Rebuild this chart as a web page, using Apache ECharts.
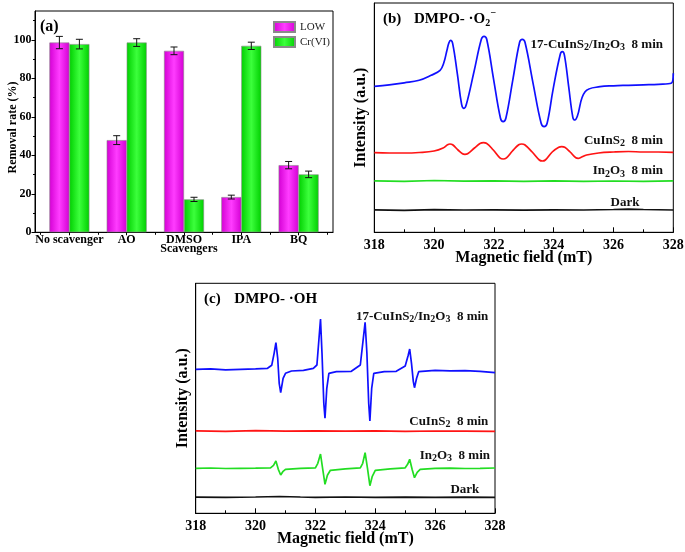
<!DOCTYPE html>
<html><head><meta charset="utf-8">
<script src="https://cdn.jsdelivr.net/npm/echarts@6/dist/echarts.min.js"></script>
<style>html,body{margin:0;padding:0;background:#fff}#c{width:685px;height:552px}</style>
</head><body><div id="c"></div>
<script>
// ---------- Panel (a) data ----------
const scavengers = ['No scavenger', 'AO', 'DMSO', 'IPA', 'BQ'];
const lowRate = [98.6, 47.9, 94.3, 18.3, 34.9];
const lowErr  = [3.2, 2.3, 2.0, 1.0, 1.9];
const crRate  = [97.8, 98.6, 17.1, 96.9, 30.1];
const crErr   = [2.5, 2.0, 1.1, 1.9, 1.7];
const rateTicks = [0, 20, 40, 60, 80, 100];
const rateMinorTicks = [10, 30, 50, 70, 90, 110];
const fieldTicks = [318, 320, 322, 324, 326, 328];

// ---------- Panel (b) spectra: [field (mT), intensity (a.u.)] ----------
const bBlue = [[318.0,146],[318.5,147.5],[319.0,149.5],[319.5,152],[319.9,157],[320.2,162],[320.32,169],[320.43,182],
  [320.49,189],[320.55,192],[320.62,189],[320.78,158],[320.92,128],[321.0,124],[321.08,128],[321.33,160],[321.58,193],
  [321.67,196],[321.76,193],[321.99,153],[322.22,114],[322.31,110.6],[322.4,114],[322.63,152],[322.86,190],[322.95,193],
  [323.04,190],[323.31,149],[323.58,109],[323.68,105.6],[323.78,109],[323.98,143],[324.22,178],[324.29,180.6],[324.36,177],
  [324.5,146],[324.64,115],[324.71,112.3],[324.79,116],[325.05,140.6],[325.55,145.6],[326.0,146.5],
  [326.5,147],[327.0,147.5],[327.5,148],[327.93,149],[328.0,159]];
const bRed = [[318,79.6],[318.5,79.3],[319,79.3],[319.5,79.8],[320.0,81.3],[320.3,84.3],[320.45,87.5],[320.53,88.3],[320.62,87.5],
  [320.8,82.3],[320.95,78.5],[321.03,78],[321.12,78.6],[321.35,84.3],[321.55,89],[321.65,89.6],[321.75,89],[321.98,82.3],
  [322.2,74.5],[322.31,73.3],[322.42,74.5],[322.62,81.3],[322.83,87.6],[322.93,88.3],[323.03,87.6],[323.28,80.3],
  [323.52,72.3],[323.62,71.3],[323.72,72.3],[323.95,80.3],[324.17,85],[324.27,85.6],[324.37,85],[324.55,80.3],
  [324.74,74.5],[324.82,74],[324.92,75],[325.1,77.3],[325.5,79.3],[326,80.3],[326.5,80.8],[327,80.3],[327.5,80.3],[328,80]];
const bGreen = [[318,51.5],[319,51],[320,51.8],[321,51.2],[322,51.5],[323,51],[324,51.4],[325,51],[326,51.3],[327,51],[328,51.5]];
const bBlack = [[318,22.5],[319,22],[320,22.6],[321,22.3],[322,22.5],[323,22.2],[324,22.4],[325,22.3],[326,22.8],[326.5,23.2],[327,22.8],[328,22.3]];

// ---------- Panel (c) spectra ----------
const cBlue = [[318,144],[318.5,144.5],[319,143.5],[319.5,144],[320,144.5],[320.4,145],[320.54,148],[320.62,160],[320.68,170.6],
  [320.74,155],[320.79,130],[320.84,120.6],[320.92,135],[321.0,140],[321.2,142.3],[321.6,143],[321.93,145],[322.05,148.3],
  [322.12,175],[322.17,194.3],[322.22,160],[322.28,110],[322.32,95],[322.38,125],[322.45,140],[322.7,141.6],[323.2,142],
  [323.5,148.3],[323.6,175],[323.66,191],[323.72,160],[323.78,110],[323.82,92.3],[323.88,125],[323.95,140],[324.3,141.6],
  [324.7,142],[325.0,147.3],[325.1,158],[325.15,164.3],[325.21,150],[325.27,132],[325.31,125.6],[325.38,135],[325.45,141.6],
  [326,143],[326.5,142.5],[327,142.6],[327.5,142],[328,140.6]];
const cRed = [[318,82.5],[319,82],[320,82.6],[321,82.2],[322,82.5],[323,82.1],[324,82.4],[325,82],[326,82.3],[327,82.2],[328,82]];
const cGreen = [[318,45],[318.5,45.3],[319,44.8],[319.5,45],[320,45.2],[320.5,45.5],[320.6,48],[320.68,52.3],[320.76,44],
  [320.84,38.3],[320.92,42],[321.0,44],[321.5,45],[322.0,45.5],[322.08,50],[322.17,59.3],[322.24,45],[322.32,29],[322.4,38],
  [322.5,43],[323,44.5],[323.5,45.5],[323.58,50],[323.66,60.6],[323.74,45],[323.82,27.6],[323.9,37],[324,43],[324.5,44.5],
  [325,45.5],[325.08,49],[325.15,54],[325.23,44],[325.31,35.6],[325.4,41],[325.5,44],[326,45],[326.5,45.2],[327,44.8],
  [327.5,45],[328,45.3]];
const cBlack = [[318,16.2],[319,16],[320,16.3],[320.8,16.8],[321.5,16.3],[322,16],[323,16.3],[324,16],[325,16.2],[326,16],[327,16.2],[328,16]];

// ---------- styling ----------
const FF = '"Liberation Serif","Times New Roman",serif';
const BLUE = '#1010ff', RED = '#ff1414', GREEN = '#22dd22', BLACK = '#111';
const magGrad = {type:'linear',x:0,y:0,x2:1,y2:0,colorStops:[{offset:0,color:'#d400d4'},{offset:0.5,color:'#ff3cff'},{offset:1,color:'#d400d4'}]};
const grnGrad = {type:'linear',x:0,y:0,x2:1,y2:0,colorStops:[{offset:0,color:'#00cf00'},{offset:0.5,color:'#3cff3c'},{offset:1,color:'#00cf00'}]};

const chart = echarts.init(document.getElementById('c'), null, {renderer:'canvas'});

function makeErr(off){
  return function(params, api){
    const x = api.value(0), v = api.value(1), e = api.value(2);
    const t = api.coord([x, v + e]), b = api.coord([x, v - e]);
    const cx = t[0] + off;
    const st = {stroke:'#111', lineWidth:1};
    return {type:'group', children:[
      {type:'line', shape:{x1:cx,y1:t[1],x2:cx,y2:b[1]}, style:st},
      {type:'line', shape:{x1:cx-3.5,y1:t[1],x2:cx+3.5,y2:t[1]}, style:st},
      {type:'line', shape:{x1:cx-3.5,y1:b[1],x2:cx+3.5,y2:b[1]}, style:st}
    ]};
  };
}

const axLine = {show:true, lineStyle:{color:'#000', width:1}};
const noSplit = {show:false};

function spectrumX(gi){
  return {type:'value', gridIndex:gi, min:318, max:328, interval:2,
    axisLine:axLine, axisTick:{show:true, inside:true, length:5, lineStyle:{color:'#000'}},
    minorTick:{show:true, splitNumber:2, length:3, lineStyle:{color:'#000'}},
    splitLine:noSplit, minorSplitLine:{show:false},
    axisLabel:{margin:6, fontFamily:FF, fontWeight:'bold', fontSize:14, color:'#000'},
    name:'Magnetic field (mT)', nameLocation:'middle', nameGap:18, nameMoveOverlap:false,
    nameTextStyle:{fontFamily:FF, fontWeight:'bold', fontSize:16, color:'#000'}};
}
function spectrumY(gi, max){
  return {type:'value', gridIndex:gi, min:0, max:max,
    axisLine:axLine, axisTick:{show:false}, axisLabel:{show:false}, splitLine:noSplit,
    name:'Intensity (a.u.)', nameLocation:'middle', nameGap:5, nameMoveOverlap:false,
    nameTextStyle:{fontFamily:FF, fontWeight:'bold', fontSize:16, color:'#000'}};
}
function lineSeries(name, data, color, xi, smooth){
  return {type:'line', name:name, xAxisIndex:xi, yAxisIndex:xi, data:data, showSymbol:false, symbol:'none',
    smooth:smooth, lineStyle:{color:color, width:1.7}, itemStyle:{color:color}, silent:true};
}

const R = {
  n:{fontFamily:FF, fontSize:13, fontWeight:'bold', fill:'#111', lineHeight:16},
  s:{fontFamily:FF, fontSize:10, fontWeight:'bold', fill:'#111', lineHeight:10, verticalAlign:'bottom'}
};
const RT = {
  n:{fontFamily:FF, fontSize:15, fontWeight:'bold', fill:'#000', lineHeight:18},
  s:{fontFamily:FF, fontSize:10, fontWeight:'bold', fill:'#000', lineHeight:8, verticalAlign:'bottom'}
};
function txt(x, y, text, rich, align){
  return {type:'text', x:x, y:y, silent:true,
    style:{text:text, rich:rich, align:align, textAlign:align, verticalAlign:'middle', textVerticalAlign:'middle',
      fontFamily:FF, fontWeight:'bold', fontSize:13, fill:'#111'}};
}
function plain(x, y, text, size, align, rot){
  const o = {type:'text', x:x, y:y, silent:true,
    style:{text:text, align:align, textAlign:align, verticalAlign:'middle', textVerticalAlign:'middle',
      fontFamily:FF, fontWeight:'bold', fontSize:size, fill:'#000'}};
  if (rot) o.rotation = rot;
  return o;
}
const lblComposite = '{n|17-CuInS}{s|2}{n|/In}{s|2}{n|O}{s|3}{n|  8 min}';
const lblCu = '{n|CuInS}{s|2}{n|  8 min}';
const lblIn = '{n|In}{s|2}{n|O}{s|3}{n|  8 min}';

const option = {
  animation:false,
  backgroundColor:'#fff',
  grid:[
    {left:35, top:11, width:298, height:221.3, show:true, borderColor:'#000', borderWidth:1, backgroundColor:'transparent', outerBoundsMode:'none', containLabel:false},
    {left:374.3, top:3, width:299, height:229.3, show:true, borderColor:'#000', borderWidth:1, backgroundColor:'transparent', outerBoundsMode:'none', containLabel:false},
    {left:195.7, top:283.3, width:299.3, height:230, show:true, borderColor:'#000', borderWidth:1, backgroundColor:'transparent', outerBoundsMode:'none', containLabel:false}
  ],
  legend:{
    data:['LOW','Cr(VI)'], orient:'vertical', left:268, top:16, itemWidth:21, itemHeight:10, itemGap:3,
    icon:'rect', textStyle:{fontFamily:FF, fontSize:11, color:'#222'}, selectedMode:false
  },
  xAxis:[
    {type:'value', gridIndex:0, min:0.4, max:5.6, position:'bottom',
      axisLine:axLine, splitLine:noSplit,
      axisTick:{show:true, inside:false, length:3, customValues:[1,2,3,4,5], lineStyle:{color:'#000'}},
      axisLabel:{customValues:[1,2,3,4,5], margin:2, fontFamily:FF, fontWeight:'bold', fontSize:12, color:'#000',
        formatter:function(v){ return scavengers[Math.round(v)-1]; }},
      name:'Scavengers', nameLocation:'middle', nameGap:10.5, nameMoveOverlap:false,
      nameTextStyle:{fontFamily:FF, fontWeight:'bold', fontSize:12, color:'#000', padding:[0,0,0,10]}},
    {type:'value', gridIndex:0, min:0.4, max:5.6, position:'bottom',
      axisLine:{show:false}, splitLine:noSplit, axisLabel:{show:false},
      axisTick:{show:true, inside:false, length:2.5, customValues:[0.5,1.5,2.5,3.5,4.5,5.5], lineStyle:{color:'#000'}}},
    spectrumX(1),
    spectrumX(2)
  ],
  yAxis:[
    {type:'value', gridIndex:0, min:0, max:115, position:'left',
      axisLine:axLine, splitLine:noSplit,
      axisTick:{show:true, inside:false, length:3.5, customValues:rateTicks, lineStyle:{color:'#000'}},
      axisLabel:{customValues:rateTicks, margin:3.5, fontFamily:FF, fontWeight:'bold', fontSize:12, color:'#000'}},
    {type:'value', gridIndex:0, min:0, max:115, position:'left',
      axisLine:{show:false}, splitLine:noSplit, axisLabel:{show:false},
      axisTick:{show:true, inside:false, length:2, customValues:rateMinorTicks, lineStyle:{color:'#000'}}},
    spectrumY(1, 229.3),
    spectrumY(2, 230)
  ],
  series:[
    {type:'bar', name:'LOW', xAxisIndex:0, yAxisIndex:0, data:lowRate.map((v,i)=>[i+1,v]), barWidth:20, barGap:'0%',
      itemStyle:{color:magGrad, borderColor:'#8a8a8a', borderWidth:0.6}},
    {type:'bar', name:'Cr(VI)', xAxisIndex:0, yAxisIndex:0, data:crRate.map((v,i)=>[i+1,v]), barWidth:20, barGap:'0%',
      itemStyle:{color:grnGrad, borderColor:'#8a8a8a', borderWidth:0.6}},
    {type:'custom', name:'errLOW', xAxisIndex:0, yAxisIndex:0, data:lowRate.map((v,i)=>[i+1,v,lowErr[i]]),
      encode:{x:0, y:1}, renderItem:makeErr(-10), z:5, silent:true},
    {type:'custom', name:'errCr', xAxisIndex:0, yAxisIndex:0, data:crRate.map((v,i)=>[i+1,v,crErr[i]]),
      encode:{x:0, y:1}, renderItem:makeErr(10), z:5, silent:true},
    lineSeries('b-composite', bBlue, BLUE, 2, 0.4),
    lineSeries('b-CuInS2', bRed, RED, 2, 0.4),
    lineSeries('b-In2O3', bGreen, GREEN, 2, false),
    lineSeries('b-Dark', bBlack, BLACK, 2, false),
    lineSeries('c-composite', cBlue, BLUE, 3, false),
    lineSeries('c-CuInS2', cRed, RED, 3, false),
    lineSeries('c-In2O3', cGreen, GREEN, 3, false),
    lineSeries('c-Dark', cBlack, BLACK, 3, false)
  ],
  graphic:[
    plain(40, 26.5, '(a)', 16, 'left'),
    plain(12.5, 127.5, 'Removal rate (%)', 12, 'center', Math.PI/2),
    // panel (b) title
    plain(383, 19.3, '(b)', 15, 'left'),
    txt(414, 19.3, '{n|DMPO- ·O}{s|2}', RT, 'left'),
    plain(490.5, 13, '\u2212', 10, 'left'),
    // panel (c) title
    plain(204, 299.3, '(c)', 15, 'left'),
    txt(234.3, 299.3, '{n|DMPO- ·OH}', RT, 'left'),
    // panel (b) series labels
    txt(663, 44.5, lblComposite, R, 'right'),
    txt(663, 140.5, lblCu, R, 'right'),
    txt(663, 171, lblIn, R, 'right'),
    txt(639.5, 203, '{n|Dark}', R, 'right'),
    // panel (c) series labels
    txt(488.3, 316.7, lblComposite, R, 'right'),
    txt(488.3, 421.7, lblCu, R, 'right'),
    txt(490, 455.8, lblIn, R, 'right'),
    txt(479.3, 490, '{n|Dark}', R, 'right')
  ]
};
chart.setOption(option);
</script></body></html>
